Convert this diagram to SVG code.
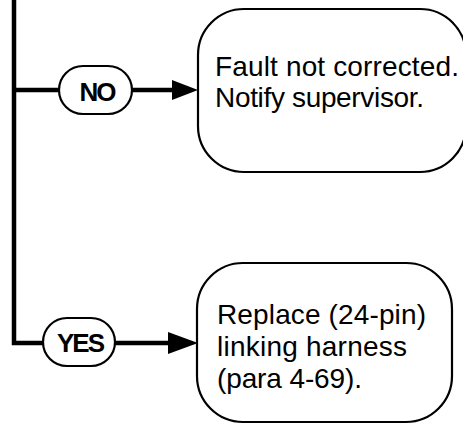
<svg xmlns="http://www.w3.org/2000/svg" width="463" height="424" viewBox="0 0 463 424">
<style>
.box{fill:#fff;stroke:#000;stroke-width:2.2}
.pill{fill:#fff;stroke:#000;stroke-width:2.2}
.conn{fill:none;stroke:#000;stroke-width:4.5}
.head{fill:#000;stroke:none}
.lbl{font-family:"Liberation Sans",Arial,sans-serif;font-weight:bold;font-size:26px;letter-spacing:-2px;text-anchor:middle;fill:#000}
.txt{font-family:"Liberation Sans",Arial,sans-serif;font-size:28px;fill:#000}
</style>
<g id="connectors">
<path class="conn" d="M14,0 V343 H44"/>
<path class="conn" d="M14,90 H60"/>
<path class="conn" d="M131,90 H175"/>
<path class="conn" d="M114,343 H170"/>
<polygon class="head" points="172,80 198,90 172,100"/>
<polygon class="head" points="168,332 198,343 168,354"/>
</g>
<g id="no">
<rect class="pill" x="59" y="66" width="73" height="48" rx="24"/>
<text class="lbl" x="97" y="101">NO</text>
</g>
<g id="yes">
<rect class="pill" x="43" y="318" width="72" height="48" rx="24"/>
<text class="lbl" x="80" y="352">YES</text>
</g>
<g id="fault">
<rect class="box" x="198" y="9" width="268" height="163" rx="46"/>
<text class="txt" x="215" y="76" textLength="244" lengthAdjust="spacing">Fault not corrected.</text>
<text class="txt" x="215" y="107" textLength="209" lengthAdjust="spacing">Notify supervisor.</text>
</g>
<g id="replace">
<rect class="box" x="197" y="263" width="255" height="159" rx="46"/>
<text class="txt" x="217" y="324" textLength="209" lengthAdjust="spacing">Replace (24-pin)</text>
<text class="txt" x="217" y="356" textLength="190" lengthAdjust="spacing">linking harness</text>
<text class="txt" x="217" y="388" textLength="145" lengthAdjust="spacing">(para 4-69).</text>
</g>
</svg>
